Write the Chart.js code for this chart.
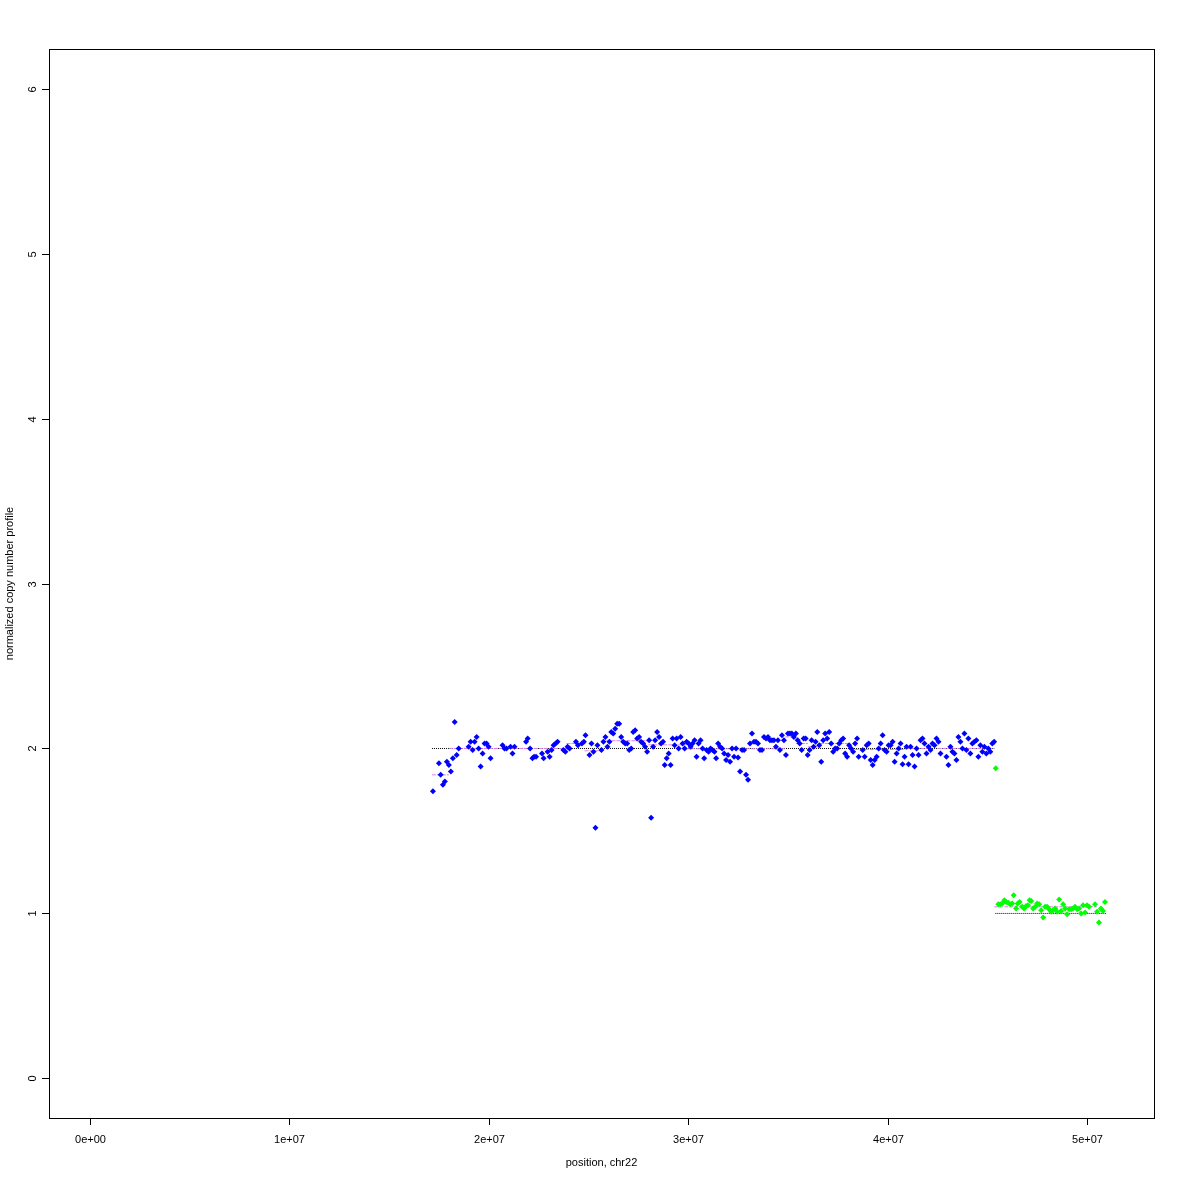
<!DOCTYPE html>
<html>
<head>
<meta charset="utf-8">
<script src="https://cdn.jsdelivr.net/npm/chart.js@4/dist/chart.umd.min.js"></script>
<style>
  body { margin: 0; background: #fff; }
  #wrap { width: 1180px; height: 1180px; }
</style>
</head>
<body>
<div id="wrap"><canvas id="cnv" width="1180" height="1180"></canvas></div>
<script>
// positions in Mb, values = normalized copy number
const blueX = [17.20,17.50,17.59,17.70,17.80,17.90,18.00,18.10,18.20,18.29,18.39,18.49,18.99,19.09,19.19,19.29,19.39,19.49,19.59,19.69,
  19.79,19.89,19.99,20.09,20.69,20.79,20.89,21.09,21.19,21.29,21.87,21.95,22.07,22.19,22.27,22.37,22.67,22.75,22.95,23.05,
  23.15,23.25,23.35,23.45,23.74,23.84,23.95,24.05,24.37,24.47,24.67,24.77,24.85,25.05,25.15,25.25,25.35,25.45,25.65,25.75,
  25.85,25.95,26.05,26.14,26.24,26.34,26.44,26.54,26.64,26.74,26.84,26.94,27.04,27.14,27.24,27.34,27.44,27.54,27.64,27.74,
  27.84,27.94,28.04,28.14,28.24,28.34,28.44,28.54,28.64,28.74,28.82,28.92,29.02,29.12,29.22,29.32,29.42,29.52,29.62,29.72,
  29.82,29.92,30.02,30.12,30.22,30.32,30.42,30.52,30.62,30.72,30.80,30.92,31.02,31.12,31.22,31.32,31.40,31.50,31.60,31.70,
  31.80,31.90,32.00,32.10,32.20,32.30,32.40,32.50,32.60,32.70,32.80,32.90,33.00,33.10,33.20,33.30,33.40,33.50,33.60,33.70,
  33.80,33.90,34.00,34.10,34.20,34.30,34.40,34.50,34.60,34.70,34.80,34.90,35.00,35.10,35.20,35.30,35.40,35.49,35.59,35.69,
  35.79,35.89,35.99,36.09,36.19,36.29,36.39,36.47,36.57,36.67,36.77,36.87,36.97,37.07,37.17,37.27,37.37,37.47,37.57,37.67,
  37.77,37.87,37.97,38.07,38.17,38.27,38.37,38.47,38.55,38.75,38.85,38.95,39.05,39.15,39.25,39.35,39.45,39.55,39.65,39.75,
  39.85,39.95,40.05,40.15,40.25,40.35,40.45,40.55,40.65,40.75,40.85,40.95,41.05,41.15,41.25,41.35,41.45,41.55,41.65,41.75,
  41.85,41.95,42.05,42.15,42.25,42.35,42.45,42.55,42.65,42.95,43.05,43.15,43.25,43.35,43.45,43.55,43.65,43.75,43.85,43.95,
  44.05,44.15,44.25,44.35,44.45,44.55,44.65,44.75,44.85,44.95,45.05,45.15,45.25,45.34];
const blueY = [1.74,1.91,1.84,1.78,1.80,1.92,1.90,1.86,1.94,2.16,1.96,2.00,2.01,2.04,1.99,2.04,2.07,2.00,1.89,1.97,
  2.03,2.03,2.01,1.94,2.02,2.00,2.00,2.01,1.97,2.01,2.04,2.06,2.00,1.94,1.95,1.95,1.97,1.94,1.98,1.95,
  1.99,2.02,2.03,2.04,1.99,1.98,2.01,2.00,2.04,2.02,2.03,2.04,2.08,1.96,2.03,1.98,1.52,2.02,1.99,2.04,
  2.07,2.01,2.04,2.10,2.09,2.12,2.15,2.15,2.07,2.04,2.03,2.03,1.99,2.00,2.10,2.11,2.06,2.07,2.04,2.03,
  2.01,1.98,2.05,1.58,2.01,2.05,2.10,2.07,2.03,2.04,1.90,1.94,1.97,1.90,2.06,2.02,2.06,2.00,2.07,2.03,
  2.00,2.04,2.03,2.01,2.03,2.05,1.95,2.03,2.05,2.00,1.94,1.99,1.98,2.00,1.99,1.98,1.94,2.03,2.01,2.00,
  1.97,1.93,1.96,1.92,2.00,1.95,2.00,1.945,1.86,1.99,1.99,1.84,1.81,2.03,2.09,2.04,2.04,2.03,1.99,1.99,
  2.07,2.06,2.07,2.05,2.05,2.05,2.01,2.05,1.99,2.08,2.05,1.96,2.09,2.09,2.09,2.07,2.09,2.05,2.03,1.99,
  2.06,2.06,1.96,1.99,2.05,2.01,2.04,2.10,2.02,1.92,2.05,2.09,2.06,2.10,2.03,1.98,2.00,2.00,2.03,2.05,
  2.06,1.97,1.95,2.02,2.00,1.98,2.03,2.06,1.95,1.99,1.95,2.02,2.03,1.93,1.90,1.93,1.95,2.00,2.03,2.08,
  1.99,1.98,2.02,2.02,2.04,1.92,1.97,2.00,2.03,1.905,1.95,2.01,1.905,2.01,1.96,1.89,2.00,1.96,2.05,2.06,
  2.03,1.97,2.01,1.99,2.03,2.02,2.06,2.04,1.97,1.95,1.90,2.01,1.98,1.97,1.93,2.07,2.04,2.00,2.09,1.99,
  2.06,1.97,2.03,2.04,2.05,1.95,2.02,1.98,2.01,1.97,2.00,1.98,2.03,2.04];

const greenX = [45.42,45.55,45.65,45.75,45.85,45.95,46.05,46.15,46.25,46.32,46.44,46.52,46.62,46.74,46.84,46.94,47.04,47.12,47.20,47.30,
  47.40,47.50,47.60,47.70,47.80,47.90,48.00,48.10,48.20,48.30,48.40,48.50,48.60,48.70,48.80,48.90,49.00,49.10,49.20,49.30,
  49.40,49.50,49.60,49.70,49.80,49.90,50.00,50.10,50.40,50.50,50.60,50.70,50.80,50.90];
const greenY = [1.88,1.055,1.055,1.06,1.08,1.07,1.065,1.055,1.06,1.11,1.03,1.06,1.07,1.04,1.03,1.045,1.05,1.08,1.075,1.03,
  1.04,1.06,1.055,1.02,0.975,1.04,1.04,1.025,1.01,1.02,1.03,1.01,1.085,1.015,1.055,1.03,0.995,1.025,1.025,1.03,
  1.04,1.025,1.03,1.00,1.05,1.005,1.05,1.04,1.055,1.01,0.945,1.03,1.015,1.07];

// segmentation (dashed violet)
const segStart = [17.15,18.00,23.90,24.80,25.65,28.00,29.90,34.85,35.40,36.00,36.60,38.10,40.90,42.10,42.50,45.35,50.50];
const segEnd   = [18.00,23.95,24.85,25.65,28.00,29.90,34.85,35.40,36.00,36.60,38.10,40.90,42.10,42.50,45.35,50.50,50.90];
const segValue = [1.84,2.00,2.03,1.986,2.047,2.022,1.998,2.07,2.03,2.01,2.03,1.994,2.00,2.02,2.00,1.04,1.02];

// expected copy number (dotted black)
const refStart = [17.15,45.40];
const refEnd   = [45.35,50.95];
const refValue = [2,1];

const xTicks = [0,10,20,30,40,50];
const xTickLabels = ['0e+00','1e+07','2e+07','3e+07','4e+07','5e+07'];
const yTicks = [0,1,2,3,4,5,6];
const yTickLabels = ['0','1','2','3','4','5','6'];

const chrLen = 51.3046;
const FONT = '11px "Liberation Sans", Arial, sans-serif';

const datasets = [];
datasets.push({
  label: 'chr22 a', data: blueX.map((x, i) => ({x: x, y: blueY[i]})),
  backgroundColor: '#0000ff', pointStyle: 'rectRot', pointRadius: 3, borderWidth: 0, order: 0
});
datasets.push({
  label: 'chr22 b', data: greenX.map((x, i) => ({x: x, y: greenY[i]})),
  backgroundColor: '#00ff00', pointStyle: 'rectRot', pointRadius: 3, borderWidth: 0, order: 0
});
for (let i = 0; i < refStart.length; i++) {
  datasets.push({
    type: 'line', data: [{x: refStart[i], y: refValue[i]}, {x: refEnd[i], y: refValue[i]}],
    borderColor: '#000', borderWidth: 1, borderDash: [1, 1], pointRadius: 0, order: 2
  });
}
for (let i = 0; i < segStart.length; i++) {
  datasets.push({
    type: 'line', data: [{x: segStart[i], y: segValue[i]}, {x: segEnd[i], y: segValue[i]}],
    borderColor: '#dc82ee', borderWidth: 1, borderDash: [4, 1], pointRadius: 0, order: 1
  });
}

// R-style box, ticks and labels
const rAxes = {
  id: 'rAxes',
  afterDraw(chart) {
    const ctx = chart.ctx, a = chart.chartArea;
    const xs = chart.scales.x, ys = chart.scales.y;
    ctx.save();
    ctx.strokeStyle = '#000';
    ctx.lineWidth = 1;
    ctx.strokeRect(a.left + 0.5, a.top + 0.5, a.right - a.left, a.bottom - a.top);
    ctx.font = FONT;
    ctx.fillStyle = '#000';
    ctx.textAlign = 'center';
    ctx.textBaseline = 'middle';
    xTicks.forEach((v, i) => {
      const px = Math.round(xs.getPixelForValue(v)) + 0.5;
      ctx.beginPath(); ctx.moveTo(px, a.bottom); ctx.lineTo(px, a.bottom + 7); ctx.stroke();
      ctx.fillText(xTickLabels[i], px, a.bottom + 22);
    });
    yTicks.forEach((v, i) => {
      const py = Math.round(ys.getPixelForValue(v)) + 0.5;
      ctx.beginPath(); ctx.moveTo(a.left - 7, py); ctx.lineTo(a.left, py); ctx.stroke();
      ctx.save();
      ctx.translate(a.left - 16, py);
      ctx.rotate(-Math.PI / 2);
      ctx.fillText(yTickLabels[i], 0, 0);
      ctx.restore();
    });
    ctx.fillText('position, chr22', (a.left + a.right) / 2, 1163);
    ctx.save();
    ctx.translate(10, (a.top + a.bottom) / 2);
    ctx.rotate(-Math.PI / 2);
    ctx.fillText('normalized copy number profile', 0, 0);
    ctx.restore();
    ctx.restore();
  }
};

new Chart(document.getElementById('cnv'), {
  type: 'scatter',
  data: { datasets: datasets },
  options: {
    responsive: false,
    animation: false,
    layout: { padding: { left: 49, top: 49, right: 26, bottom: 62 } },
    plugins: { legend: { display: false }, tooltip: { enabled: false } },
    scales: {
      x: { type: 'linear', display: false, min: -0.04 * chrLen, max: 1.04 * chrLen },
      y: { type: 'linear', display: false, min: -0.24, max: 6.24 }
    }
  },
  plugins: [rAxes]
});
</script>
</body>
</html>
